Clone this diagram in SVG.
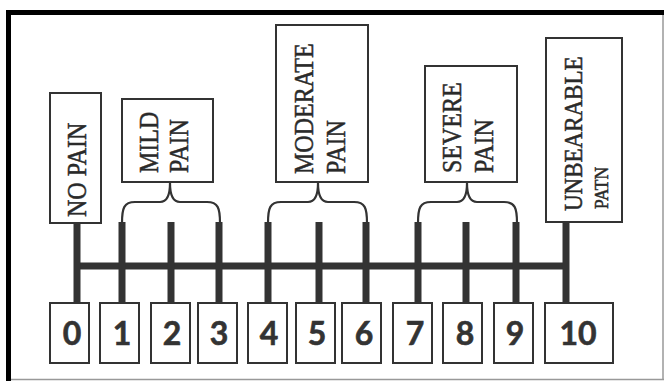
<svg xmlns="http://www.w3.org/2000/svg" width="666" height="381" viewBox="0 0 666 381">
<style>
.box{fill:#fff;stroke:#333;stroke-width:2}
.lbl{font-family:"Liberation Serif","Times New Roman",serif;font-size:24px;fill:#2a2a2a;stroke:#2a2a2a;stroke-width:0.45}
.num{font-family:Lato,"Open Sans",sans-serif;font-weight:bold;font-size:32px;fill:#333;text-anchor:middle;stroke:#333;stroke-width:0.6}
.tick{stroke:#333;stroke-width:7;fill:none}
.brace{stroke:#333;stroke-width:2.2;fill:none}
</style>
<rect width="666" height="381" fill="#fff"/>
<g id="frame">
<line x1="663" y1="12" x2="663" y2="380" stroke="#999" stroke-width="1.5"/>
<line x1="8" y1="379.5" x2="664" y2="379.5" stroke="#999" stroke-width="1.5"/>
<rect x="6" y="10" width="658" height="5" fill="#000"/>
<rect x="6" y="10" width="5" height="371" fill="#000"/>
</g>
<g id="connectors">
<line class="tick" x1="77" y1="266" x2="566" y2="266" stroke-width="6"/>
<line class="tick" x1="77" y1="222" x2="77" y2="303"/>
<line class="tick" x1="122" y1="222" x2="122" y2="303"/>
<line class="tick" x1="171" y1="222" x2="171" y2="303"/>
<line class="tick" x1="219" y1="222" x2="219" y2="303"/>
<line class="tick" x1="268" y1="222" x2="268" y2="303"/>
<line class="tick" x1="319" y1="222" x2="319" y2="303"/>
<line class="tick" x1="366" y1="222" x2="366" y2="303"/>
<line class="tick" x1="418" y1="222" x2="418" y2="303"/>
<line class="tick" x1="466" y1="222" x2="466" y2="303"/>
<line class="tick" x1="516" y1="222" x2="516" y2="303"/>
<line class="tick" x1="566" y1="222" x2="566" y2="303"/>
<path class="brace" d="M122 223 C122 208 124 202 135 202 L160 202 C167 202 170 196 170 183 C170 196 173 202 180 202 L207 202 C218 202 220 208 220 223"/>
<path class="brace" d="M268 223 C268 208 270 202 281 202 L308 202 C315 202 318 196 318 183 C318 196 321 202 328 202 L354 202 C365 202 367 208 367 223"/>
<path class="brace" d="M418 223 C418 208 420 202 431 202 L457 202 C464 202 467 196 467 183 C467 196 470 202 477 202 L504 202 C515 202 517 208 517 223"/>
</g>
<g id="label-no-pain">
<rect class="box" x="50" y="93" width="51" height="130"/>
<text class="lbl" transform="translate(86,217) rotate(-90) scale(1,1.1)">NO PAIN</text>
</g>
<g id="label-mild">
<rect class="box" x="122" y="99" width="91" height="83"/>
<text class="lbl" transform="translate(158,173) rotate(-90) scale(1,1.1)">MILD</text>
<text class="lbl" transform="translate(188,173) rotate(-90) scale(1,1.1)">PAIN</text>
</g>
<g id="label-moderate">
<rect class="box" x="276" y="25" width="92" height="157"/>
<text class="lbl" transform="translate(313,174) rotate(-90) scale(1,1.1)">MODERATE</text>
<text class="lbl" transform="translate(345,174) rotate(-90) scale(1,1.1)">PAIN</text>
</g>
<g id="label-severe">
<rect class="box" x="425" y="66" width="92" height="116"/>
<text class="lbl" transform="translate(461,173) rotate(-90) scale(1,1.1)">SEVERE</text>
<text class="lbl" transform="translate(493,173) rotate(-90) scale(1,1.1)">PAIN</text>
</g>
<g id="label-unbearable">
<rect class="box" x="546" y="38" width="76" height="184"/>
<text class="lbl" style="font-size:23px" transform="translate(582,211) rotate(-90) scale(1,1.1)">UNBEARABLE</text>
<text class="lbl" style="font-size:17.5px" transform="translate(608,209) rotate(-90) scale(1,1.1)">PATN</text>
</g>
<g id="n0"><rect class="box" x="50" y="303" width="39" height="60"/><text class="num" x="72" y="345">0</text></g>
<g id="n1"><rect class="box" x="100" y="303" width="39" height="60"/><text class="num" x="122" y="345">1</text></g>
<g id="n2"><rect class="box" x="151" y="303" width="39" height="60"/><text class="num" x="172" y="345">2</text></g>
<g id="n3"><rect class="box" x="198" y="303" width="39" height="60"/><text class="num" x="219" y="345">3</text></g>
<g id="n4"><rect class="box" x="248" y="303" width="39" height="60"/><text class="num" x="269" y="345">4</text></g>
<g id="n5"><rect class="box" x="296" y="303" width="39" height="60"/><text class="num" x="317" y="345">5</text></g>
<g id="n6"><rect class="box" x="342" y="303" width="39" height="60"/><text class="num" x="364" y="345">6</text></g>
<g id="n7"><rect class="box" x="393" y="303" width="39" height="60"/><text class="num" x="415" y="345">7</text></g>
<g id="n8"><rect class="box" x="443" y="303" width="39" height="60"/><text class="num" x="465" y="345">8</text></g>
<g id="n9"><rect class="box" x="494" y="303" width="39" height="60"/><text class="num" x="515" y="345">9</text></g>
<g id="n10"><rect class="box" x="545" y="303" width="68" height="60"/><text class="num" x="578" y="345">10</text></g>
</svg>
